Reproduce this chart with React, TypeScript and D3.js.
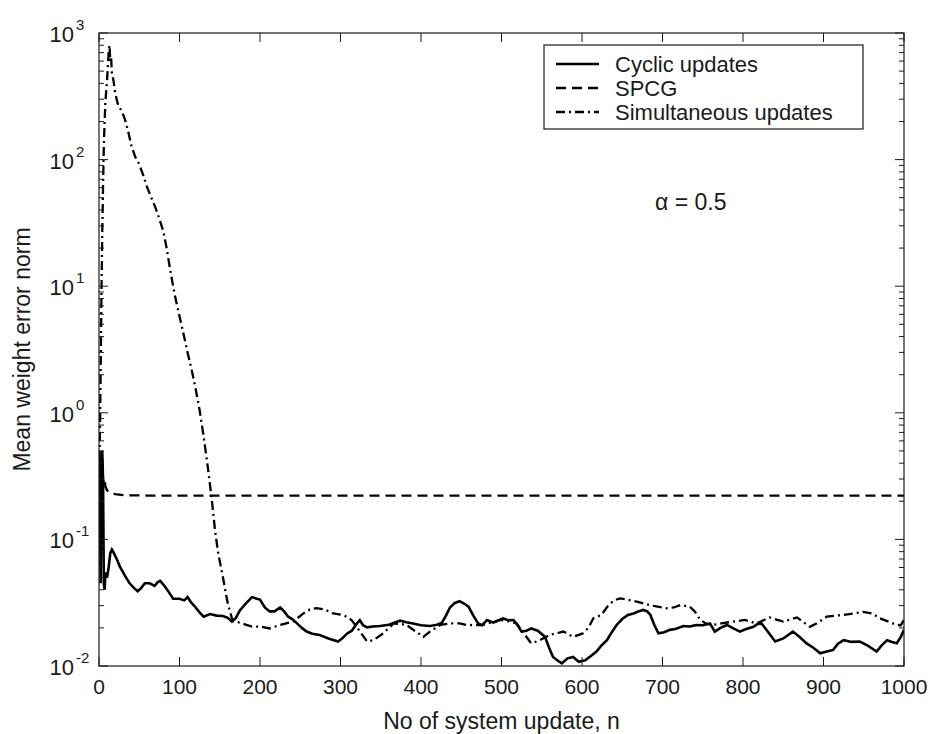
import * as d3 from "d3";

// Cyclic updates (solid)
const cyclicN = [0, 1, 2, 3, 4, 5, 6, 7, 8, 10, 12, 14, 16, 18, 22, 26, 32, 38, 44, 48, 52, 57, 63, 69, 73, 76, 80, 86, 92, 100, 106, 110, 114, 120, 126, 130, 138, 146, 154, 160, 165, 170, 175, 182, 190, 196, 200, 206, 212, 218, 225, 230, 235, 240, 246, 252, 258, 265, 274, 285, 297, 302, 308, 314, 320, 324, 328, 333, 340, 349, 360, 374, 382, 390, 400, 411, 420, 426, 431, 436, 442, 448, 454, 459, 465, 471, 476, 482, 490, 502, 508, 515, 520, 525, 531, 537, 545, 554, 559, 564, 570, 575, 582, 589, 596, 604, 611, 618, 624, 631, 637, 643, 650, 657, 664, 670, 676, 681, 685, 690, 695, 702, 709, 716, 726, 734, 742, 750, 759, 765, 772, 780, 788, 796, 804, 813, 818, 823, 830, 840, 850, 862, 870, 879, 887, 896, 904, 912, 918, 925, 935, 945, 955, 966, 972, 979, 985, 991, 996, 1000];
const cyclicErr = [0.5, 0.3, 0.045, 0.3, 0.5, 0.3, 0.045, 0.04, 0.055, 0.05, 0.06, 0.078, 0.083, 0.079, 0.07, 0.061, 0.052, 0.045, 0.041, 0.039, 0.041, 0.045, 0.045, 0.043, 0.046, 0.047, 0.044, 0.039, 0.034, 0.034, 0.033, 0.035, 0.032, 0.029, 0.026, 0.0245, 0.0257, 0.025, 0.0248, 0.024, 0.0225, 0.024, 0.0275, 0.031, 0.035, 0.034, 0.0335, 0.029, 0.027, 0.027, 0.029, 0.027, 0.0245, 0.0235, 0.0217, 0.02, 0.0187, 0.018, 0.0176, 0.0165, 0.0156, 0.0165, 0.018, 0.019, 0.0215, 0.023, 0.021, 0.0202, 0.0205, 0.0207, 0.0212, 0.0228, 0.0222, 0.0217, 0.021, 0.0207, 0.0212, 0.022, 0.025, 0.029, 0.0315, 0.0325, 0.031, 0.0294, 0.025, 0.0217, 0.021, 0.0231, 0.022, 0.0238, 0.023, 0.0231, 0.021, 0.0187, 0.019, 0.0198, 0.019, 0.017, 0.014, 0.0118, 0.011, 0.0105, 0.0115, 0.0118, 0.0108, 0.0111, 0.012, 0.013, 0.0145, 0.016, 0.0185, 0.0211, 0.0235, 0.0253, 0.026, 0.027, 0.0277, 0.027, 0.0253, 0.021, 0.0181, 0.0185, 0.0193, 0.0196, 0.0207, 0.0205, 0.0211, 0.021, 0.0217, 0.0187, 0.02, 0.0211, 0.0198, 0.0187, 0.0196, 0.0204, 0.0215, 0.0217, 0.019, 0.0156, 0.0165, 0.0187, 0.017, 0.0151, 0.014, 0.0126, 0.013, 0.0134, 0.015, 0.016, 0.0155, 0.0156, 0.0145, 0.013, 0.0145, 0.016, 0.0155, 0.0151, 0.017, 0.0193];

// SPCG (dashed)
const spcgN = [0, 1, 2, 3, 4, 5, 6, 7, 8, 10, 12, 15, 20, 25, 30, 40, 60, 100, 200, 300, 400, 500, 600, 700, 800, 900, 1000];
const spcgErr = [0.5, 0.4, 0.45, 0.35, 0.45, 0.3, 0.28, 0.3, 0.26, 0.245, 0.235, 0.232, 0.228, 0.226, 0.224, 0.223, 0.222, 0.222, 0.222, 0.222, 0.222, 0.222, 0.222, 0.222, 0.222, 0.222, 0.222];

// Simultaneous updates (dash-dot)
const simulN = [0, 1, 2, 3, 4, 5, 6, 7, 8, 9, 10, 11, 12, 13, 14, 15, 16, 18, 20, 23, 26, 29, 32, 36, 40, 45, 50, 55, 60, 65, 70, 75, 80, 84, 88, 92, 96, 100, 105, 110, 115, 120, 125, 130, 135, 140, 144, 148, 154, 160, 165, 167, 175, 183, 190, 200, 212, 225, 241, 254, 262, 270, 280, 291, 300, 308, 314, 320, 326, 333, 341, 353, 366, 374, 382, 392, 403, 411, 424, 436, 448, 457, 476, 498, 510, 519, 528, 537, 548, 560, 577, 589, 601, 608, 614, 624, 633, 640, 647, 656, 668, 678, 689, 705, 714, 722, 734, 740, 747, 755, 763, 775, 788, 802, 817, 833, 850, 867, 883, 893, 904, 915, 925, 938, 949, 960, 970, 980, 991, 996, 1000];
const simulErr = [0.3, 0.6, 2, 8, 25, 60, 130, 200, 290, 350, 420, 550, 700, 800, 600, 650, 480, 420, 340, 280, 255, 235, 210, 170, 130, 105, 92, 75, 60, 50, 42, 34, 27, 20, 14, 10, 7.5, 5.8, 4.2, 3.0, 2.2, 1.55, 1.05, 0.65, 0.38, 0.21, 0.12, 0.078, 0.05, 0.031, 0.024, 0.0225, 0.022, 0.0211, 0.0205, 0.0205, 0.0198, 0.0211, 0.0224, 0.026, 0.028, 0.0286, 0.028, 0.026, 0.0255, 0.0245, 0.023, 0.0204, 0.018, 0.0156, 0.016, 0.0181, 0.0217, 0.0215, 0.0211, 0.019, 0.017, 0.0187, 0.0211, 0.0217, 0.0217, 0.0211, 0.021, 0.0231, 0.0225, 0.0217, 0.018, 0.0151, 0.016, 0.0176, 0.0187, 0.017, 0.0181, 0.02, 0.0238, 0.0253, 0.0303, 0.033, 0.0342, 0.0335, 0.0322, 0.031, 0.0298, 0.0286, 0.029, 0.0303, 0.0294, 0.027, 0.0231, 0.0215, 0.0211, 0.0218, 0.0224, 0.0231, 0.0217, 0.0242, 0.0224, 0.0242, 0.0204, 0.022, 0.0245, 0.025, 0.0253, 0.026, 0.0268, 0.026, 0.0238, 0.0225, 0.0211, 0.021, 0.0231];

const legendLabels = ["Cyclic updates", "SPCG", "Simultaneous updates"];
const xTicks = [0, 100, 200, 300, 400, 500, 600, 700, 800, 900, 1000];
const yExponents = [-2, -1, 0, 1, 2, 3];

const FONT = "'Liberation Sans', Arial, sans-serif";
const INK = "#1a1a1a";

const dashStyles = ["none", "10,6", "9,4,2,4"];

export default function App() {
  const left = 99, right = 904, top = 33, bottom = 666;
  const x = d3.scaleLinear().domain([0, 1000]).range([left, right]);
  const y = d3.scaleLog().domain([0.01, 1000]).range([bottom, top]);

  const line = d3
    .line<[number, number]>()
    .x((d) => x(d[0]))
    .y((d) => y(d[1]));

  const series = [
    cyclicN.map((n, i) => [n, cyclicErr[i]] as [number, number]),
    spcgN.map((n, i) => [n, spcgErr[i]] as [number, number]),
    simulN.map((n, i) => [n, simulErr[i]] as [number, number]),
  ];

  // log minor ticks 2..9 in every decade
  const minor: number[] = [];
  yExponents.slice(0, -1).forEach((e) => {
    for (let k = 2; k <= 9; k++) minor.push(k * Math.pow(10, e));
  });

  const lgX = 544, lgY = 45, lgW = 319, lgH = 84;

  return (
    <svg
      width={932}
      height={734}
      style={{ position: "absolute", left: 0, top: 0, background: "#fff" }}
      fontFamily={FONT}
    >
      <rect x={0} y={0} width={932} height={734} fill="#fff" />

      <defs>
        <clipPath id="plot">
          <rect x={left} y={top} width={right - left} height={bottom - top} />
        </clipPath>
      </defs>

      {/* data lines */}
      <g clipPath="url(#plot)">
        {series.map((s, i) => (
          <path
            key={i}
            d={line(s) || ""}
            fill="none"
            stroke="#000"
            strokeWidth={i === 0 ? 2.6 : 2.3}
            strokeDasharray={dashStyles[i]}
            strokeLinejoin="miter"
          />
        ))}
      </g>

      {/* frame */}
      <rect x={left} y={top} width={right - left} height={bottom - top} fill="none" stroke={INK} strokeWidth={1.2} />

      {/* x ticks */}
      {xTicks.map((t) => (
        <g key={"x" + t}>
          <line x1={x(t)} x2={x(t)} y1={bottom} y2={bottom - 9} stroke={INK} />
          <line x1={x(t)} x2={x(t)} y1={top} y2={top + 9} stroke={INK} />
          <text x={x(t)} y={694} textAnchor="middle" fontSize={21} fill={INK}>
            {t}
          </text>
        </g>
      ))}

      {/* y ticks */}
      {yExponents.map((e) => {
        const v = Math.pow(10, e);
        return (
          <g key={"y" + e}>
            <line x1={left} x2={left + 9} y1={y(v)} y2={y(v)} stroke={INK} />
            <line x1={right} x2={right - 9} y1={y(v)} y2={y(v)} stroke={INK} />
            <text x={74} y={y(v) + 9} textAnchor="end" fontSize={22} fill={INK}>
              10
            </text>
            <text x={76} y={y(v) - 3} fontSize={15} fill={INK}>
              {e}
            </text>
          </g>
        );
      })}
      {minor.map((v, i) => (
        <g key={"m" + i}>
          <line x1={left} x2={left + 5} y1={y(v)} y2={y(v)} stroke={INK} />
          <line x1={right} x2={right - 5} y1={y(v)} y2={y(v)} stroke={INK} />
        </g>
      ))}

      {/* axis labels */}
      <text x={(left + right) / 2} y={729} textAnchor="middle" fontSize={23} fill={INK}>
        No of system update, n
      </text>
      <text
        transform={`translate(30,${(top + bottom) / 2}) rotate(-90)`}
        textAnchor="middle"
        fontSize={23}
        fill={INK}
      >
        Mean weight error norm
      </text>

      {/* annotation */}
      <text x={655} y={210} fontSize={23} fill={INK}>
        α = 0.5
      </text>

      {/* legend */}
      <g>
        <rect x={lgX} y={lgY} width={lgW} height={lgH} fill="#fff" stroke={INK} strokeWidth={1.2} />
        {legendLabels.map((lab, i) => {
          const ly = lgY + 19 + i * 24;
          return (
            <g key={lab}>
              <line
                x1={lgX + 12}
                x2={lgX + 55}
                y1={ly}
                y2={ly}
                stroke="#000"
                strokeWidth={2.3}
                strokeDasharray={dashStyles[i]}
              />
              <text x={lgX + 71} y={ly + 8} fontSize={22} fill={INK}>
                {lab}
              </text>
            </g>
          );
        })}
      </g>
    </svg>
  );
}
